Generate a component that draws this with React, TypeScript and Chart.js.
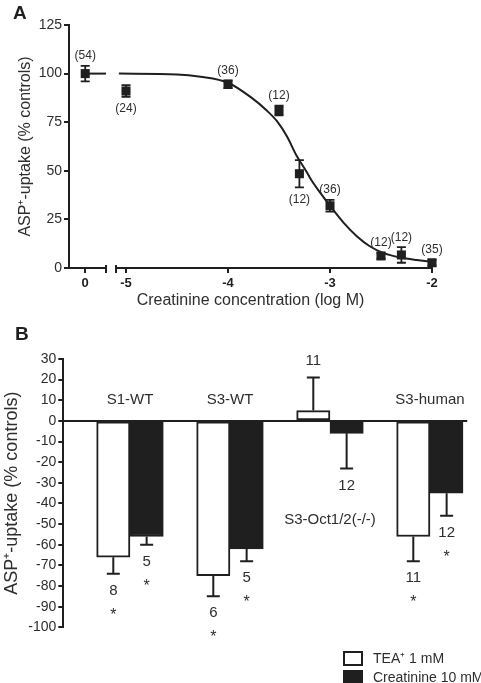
import React, { useEffect, useRef } from 'react';
import { Chart, registerables } from 'chart.js';

Chart.register(...registerables);

const FONT = '"Liberation Sans", Arial, Helvetica, sans-serif';
const INK = '#1f1f1f';
const TEXT = '#2e2e2e';

// ---------- Panel A data ----------
const xTickValues = [-5, -4, -3, -2];
const xTickLabels = ['-5', '-4', '-3', '-2'];
const controlTickLabel = '0';
const CONTROL_POS = -5.4; // axis position of the control group (left of the break)
const BREAK_START = -5.196;
const BREAK_END = -5.098;

const controlUptake = 100;
const controlSem = 4;
const controlN = 54;

const concLog = [-5, -4, -3.5, -3.3, -3, -2.5, -2.3, -2];
const uptake = [91, 94.5, 81, 48.5, 32, 6.2, 6.7, 2.7];
const uptakeSem = [3, 2, 2.5, 7, 3, 1.5, 4, 1.5];
const nA = [24, 36, 12, 12, 36, 12, 12, 35];
const nBelow = [true, false, false, true, false, false, false, false];

const fitLog = [-5.07, -4.5, -4.27, -4.0, -3.78, -3.62, -3.52, -3.42, -3.33, -3.23, -3.18, -3.1, -3.0, -2.87, -2.74, -2.61, -2.48, -2.31, -2.15, -2.0];
const fitUptake = [100, 99.6, 98.4, 95.3, 88, 81, 75.5, 67.5, 58, 49.5, 45, 39, 32, 23.5, 16.5, 11.2, 7.8, 5.4, 4.1, 3.2];

const yTitle = 'ASP\u207A-uptake (% controls)';
const xTitleA = 'Creatinine concentration (log M)';

// ---------- Panel B data ----------
const groups = ['S1-WT', 'S3-WT', 'S3-Oct1/2(-/-)', 'S3-human'];
const groupLabelValue = [10, 10, -48, 10];
const teaValues = [-66, -75, 5, -56];
const teaErr = [8, 10, 16, 12];
const teaN = [8, 6, 11, 11];
const teaSig = [true, true, false, true];
const creaValues = [-56, -62, -6, -35];
const creaErr = [4, 6, 17, 11];
const creaN = [5, 5, 12, 12];
const creaSig = [true, true, false, true];
const legendLabels = ['TEA\u207A 1 mM', 'Creatinine 10 mM'];

const allXTickValues = [CONTROL_POS, ...xTickValues];
const allXTickLabels = [controlTickLabel, ...xTickLabels];

const panelAPlugin = {
  id: 'panelA',
  beforeDatasetsDraw(chart: any) {
    const { ctx, scales } = chart;
    const xs = scales.x;
    const ys = scales.y;
    const px = [CONTROL_POS, ...concLog];
    const vals = [controlUptake, ...uptake];
    const sems = [controlSem, ...uptakeSem];
    ctx.save();
    ctx.strokeStyle = INK;
    ctx.lineWidth = 1.8;
    px.forEach((xv, i) => {
      const x = xs.getPixelForValue(xv);
      const t = ys.getPixelForValue(vals[i] + sems[i]);
      const b = ys.getPixelForValue(vals[i] - sems[i]);
      ctx.beginPath();
      ctx.moveTo(x, t);
      ctx.lineTo(x, b);
      ctx.moveTo(x - 4.5, t);
      ctx.lineTo(x + 4.5, t);
      ctx.moveTo(x - 4.5, b);
      ctx.lineTo(x + 4.5, b);
      ctx.stroke();
    });
    ctx.restore();
  },
  afterDraw(chart: any) {
    const { ctx, chartArea, scales } = chart;
    const xs = scales.x;
    const ys = scales.y;
    ctx.save();
    // broken x axis
    const yb = chartArea.bottom;
    const bs = xs.getPixelForValue(BREAK_START);
    const be = xs.getPixelForValue(BREAK_END);
    ctx.strokeStyle = INK;
    ctx.lineWidth = 2;
    ctx.beginPath();
    ctx.moveTo(chartArea.left - 1, yb);
    ctx.lineTo(bs, yb);
    ctx.moveTo(be, yb);
    ctx.lineTo(chartArea.right + 1, yb);
    ctx.moveTo(bs, yb - 3);
    ctx.lineTo(bs, yb + 5);
    ctx.moveTo(be, yb - 3);
    ctx.lineTo(be, yb + 5);
    ctx.stroke();

    // n labels
    const px = [CONTROL_POS, ...concLog];
    const vals = [controlUptake, ...uptake];
    const sems = [controlSem, ...uptakeSem];
    const ns = [controlN, ...nA];
    const below = [false, ...nBelow];
    ctx.fillStyle = TEXT;
    ctx.font = `12px ${FONT}`;
    ctx.textAlign = 'center';
    ctx.textBaseline = 'middle';
    px.forEach((xv, i) => {
      const x = xs.getPixelForValue(xv);
      const y = below[i]
        ? ys.getPixelForValue(vals[i] - sems[i]) + 12
        : ys.getPixelForValue(vals[i] + sems[i]) - 10;
      ctx.fillText(`(${ns[i]})`, x, y);
    });

    // panel letter
    ctx.font = `bold 19px ${FONT}`;
    ctx.textAlign = 'left';
    ctx.textBaseline = 'alphabetic';
    ctx.fillStyle = INK;
    ctx.fillText('A', 13, 19);
    ctx.restore();
  },
};

const panelBPlugin = {
  id: 'panelB',
  afterDatasetsDraw(chart: any) {
    const { ctx, chartArea, scales } = chart;
    const ys = scales.y;
    const y0 = ys.getPixelForValue(0);
    ctx.save();
    ctx.strokeStyle = INK;
    ctx.lineWidth = 2;
    ctx.beginPath();
    ctx.moveTo(chartArea.left, y0);
    ctx.lineTo(chartArea.right + 4, y0);
    ctx.stroke();

    const series = [
      { meta: chart.getDatasetMeta(1), vals: teaValues, errs: teaErr, n: teaN, sig: teaSig },
      { meta: chart.getDatasetMeta(2), vals: creaValues, errs: creaErr, n: creaN, sig: creaSig },
    ];
    ctx.fillStyle = TEXT;
    ctx.textAlign = 'center';
    series.forEach((s) => {
      s.vals.forEach((v, i) => {
        const bar = s.meta.data[i];
        const x = bar.x;
        const dir = v >= 0 ? 1 : -1;
        const yTip = ys.getPixelForValue(v);
        const yEnd = ys.getPixelForValue(v + dir * s.errs[i]);
        ctx.strokeStyle = INK;
        ctx.lineWidth = 2;
        ctx.beginPath();
        ctx.moveTo(x, yTip);
        ctx.lineTo(x, yEnd);
        ctx.moveTo(x - 6.5, yEnd);
        ctx.lineTo(x + 6.5, yEnd);
        ctx.stroke();
        const nY = yEnd - dir * 17;
        ctx.font = `15px ${FONT}`;
        ctx.textBaseline = 'middle';
        ctx.fillText(String(s.n[i]), x, nY);
        if (s.sig[i]) {
          ctx.font = `16px ${FONT}`;
          ctx.textBaseline = 'alphabetic';
          ctx.fillText('*', x, nY - dir * 20 + 9);
        }
      });
    });

    // group labels
    const m1 = chart.getDatasetMeta(1);
    const m2 = chart.getDatasetMeta(2);
    ctx.font = `15px ${FONT}`;
    ctx.textBaseline = 'middle';
    groups.forEach((g, i) => {
      const x = (m1.data[i].x + m2.data[i].x) / 2;
      ctx.fillText(g, x, ys.getPixelForValue(groupLabelValue[i]));
    });
    ctx.restore();
  },
  afterDraw(chart: any) {
    const { ctx } = chart;
    ctx.save();
    // panel letter
    ctx.font = `bold 19px ${FONT}`;
    ctx.fillStyle = INK;
    ctx.textAlign = 'left';
    ctx.textBaseline = 'alphabetic';
    ctx.fillText('B', 15, 30);

    // legend
    const lx = 344;
    const boxW = 18;
    const boxH = 13;
    const rows = [342, 361];
    ctx.lineWidth = 2;
    ctx.strokeStyle = INK;
    ctx.fillStyle = '#ffffff';
    ctx.fillRect(lx, rows[0], boxW, boxH);
    ctx.strokeRect(lx, rows[0], boxW, boxH);
    ctx.fillStyle = INK;
    ctx.fillRect(lx - 1, rows[1] - 1, boxW + 2, boxH + 2);
    ctx.fillStyle = TEXT;
    ctx.font = `14px ${FONT}`;
    ctx.textBaseline = 'middle';
    legendLabels.forEach((t, i) => {
      ctx.fillText(t, 373, rows[i] + boxH / 2 + 1);
    });
    ctx.restore();
  },
};

export default function App() {
  const refA = useRef<HTMLCanvasElement>(null);
  const refB = useRef<HTMLCanvasElement>(null);

  useEffect(() => {
    const pointData = [
      { x: CONTROL_POS, y: controlUptake },
      ...concLog.map((x, i) => ({ x, y: uptake[i] })),
    ];
    const controlLine = [
      { x: CONTROL_POS, y: controlUptake },
      { x: BREAK_START, y: controlUptake },
    ];
    const fitData = fitLog.map((x, i) => ({ x, y: fitUptake[i] }));

    const chartA = new Chart(refA.current as HTMLCanvasElement, {
      type: 'scatter',
      data: {
        datasets: [
          {
            type: 'line',
            data: controlLine,
            borderColor: INK,
            borderWidth: 2,
            pointRadius: 0,
            fill: false,
          } as any,
          {
            type: 'line',
            data: fitData,
            borderColor: INK,
            borderWidth: 2,
            pointRadius: 0,
            cubicInterpolationMode: 'monotone',
            fill: false,
          } as any,
          {
            type: 'scatter',
            data: pointData,
            pointStyle: 'rect',
            pointRadius: 6.4,
            backgroundColor: INK,
            borderColor: INK,
            borderWidth: 0,
            clip: false,
          } as any,
        ],
      },
      options: {
        animation: false,
        responsive: false,
        events: [],
        layout: { padding: { top: 25, right: 49, left: 0, bottom: 0 } },
        plugins: { legend: { display: false }, tooltip: { enabled: false } },
        scales: {
          x: {
            type: 'linear',
            min: -5.559,
            max: -2,
            afterBuildTicks: (scale: any) => {
              scale.ticks = allXTickValues.map((v) => ({ value: v }));
            },
            afterFit: (scale: any) => {
              scale.height = 42;
            },
            ticks: {
              autoSkip: false,
              maxRotation: 0,
              padding: 3,
              color: INK,
              font: { family: FONT, size: 13, weight: 'bold' },
              callback: (_v: any, i: number) => allXTickLabels[i],
            },
            grid: { drawOnChartArea: false, drawTicks: true, tickLength: 5, color: INK, lineWidth: 2 },
            border: { display: false },
            title: {
              display: true,
              text: xTitleA,
              color: TEXT,
              font: { family: FONT, size: 16 },
              padding: { top: 0, bottom: 0 },
            },
          },
          y: {
            type: 'linear',
            min: 0,
            max: 125,
            afterFit: (scale: any) => {
              scale.width = 69;
            },
            ticks: { stepSize: 25, padding: 2, color: TEXT, font: { family: FONT, size: 14 } },
            grid: { drawOnChartArea: false, drawTicks: true, tickLength: 5, color: INK, lineWidth: 2 },
            border: { display: true, color: INK, width: 2 },
            title: {
              display: true,
              text: yTitle,
              color: TEXT,
              font: { family: FONT, size: 16 },
              padding: { top: 16, bottom: 0 },
            },
          },
        },
      } as any,
      plugins: [panelAPlugin],
    });

    const chartB = new Chart(refB.current as HTMLCanvasElement, {
      type: 'bar',
      data: {
        labels: groups,
        datasets: [
          { label: 'spacer', data: groups.map(() => null), backgroundColor: 'rgba(0,0,0,0)' } as any,
          {
            label: legendLabels[0],
            data: teaValues,
            backgroundColor: '#ffffff',
            borderColor: INK,
            borderWidth: 2,
            borderSkipped: false,
          },
          {
            label: legendLabels[1],
            data: creaValues,
            backgroundColor: INK,
            borderColor: INK,
            borderWidth: 2,
            borderSkipped: false,
          },
        ],
      },
      options: {
        animation: false,
        responsive: false,
        events: [],
        layout: { padding: { top: 49, right: 17.7, left: 0, bottom: 55.7 } },
        plugins: { legend: { display: false }, tooltip: { enabled: false } },
        datasets: { bar: { categoryPercentage: 1, barPercentage: 1 } },
        scales: {
          x: { display: false, offset: true },
          y: {
            min: -100,
            max: 30,
            afterFit: (scale: any) => {
              scale.width = 63.3;
            },
            ticks: { stepSize: 10, padding: 2, color: TEXT, font: { family: FONT, size: 14 } },
            grid: { drawOnChartArea: false, drawTicks: true, tickLength: 5, color: INK, lineWidth: 2 },
            border: { display: true, color: INK, width: 2 },
            title: {
              display: true,
              text: yTitle,
              color: TEXT,
              font: { family: FONT, size: 18 },
              padding: { top: 1, bottom: 0 },
            },
          },
        },
      } as any,
      plugins: [panelBPlugin],
    });

    return () => {
      chartA.destroy();
      chartB.destroy();
    };
  }, []);

  return (
    <div style={{ position: 'absolute', left: 0, top: 0, width: 481, height: 683, background: '#ffffff' }}>
      <canvas ref={refA} width={481} height={310} style={{ position: 'absolute', left: 0, top: 0, display: 'block' }} />
      <canvas ref={refB} width={481} height={373} style={{ position: 'absolute', left: 0, top: 310, display: 'block' }} />
    </div>
  );
}
